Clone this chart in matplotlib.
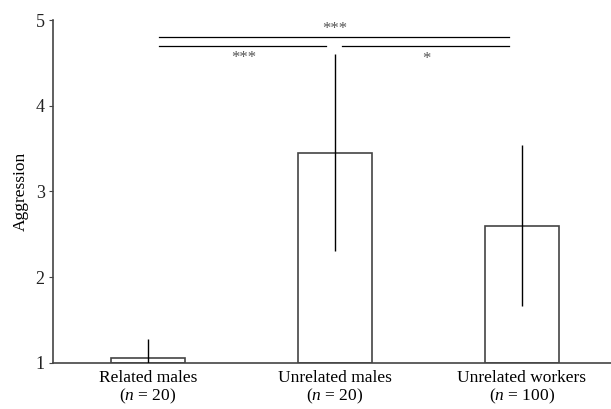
import numpy as np
import matplotlib.pyplot as plt

categories = ["Related males\n($n$ = 20)", "Unrelated males\n($n$ = 20)", "Unrelated workers\n($n$ = 100)"]
means = [1.05, 3.45, 2.60]
errors = [0.23, 1.15, 0.94]

# significance brackets: (x start, x end, y line, label, label x, label y)
brackets = [
    (0.06, 1.93, 4.80, "***", 1.0, 4.90),
    (0.06, 0.95, 4.70, "***", 0.51, 4.56),
    (1.04, 1.93, 4.70, "*", 1.49, 4.55),
]

plt.rcParams['font.family'] = ['Liberation Serif', 'DejaVu Serif']
plt.rcParams['mathtext.fontset'] = 'custom'
plt.rcParams['mathtext.it'] = 'Liberation Serif:italic'
plt.rcParams['mathtext.rm'] = 'Liberation Serif'

fig = plt.figure(figsize=(6.11, 4.09), dpi=100)
ax = fig.add_axes([0.0867, 0.113, 0.9133, 0.838])

x = np.arange(len(categories))
ax.bar(x, np.array(means) - 1, bottom=1, width=0.4, color='white',
       edgecolor='#444444', linewidth=1.2, zorder=2)
ax.errorbar(x, means, yerr=errors, fmt='none', ecolor='black',
            elinewidth=1.0, capsize=0, zorder=3)

for x0, x1, yl, lab, tx, ty in brackets:
    ax.plot([x0, x1], [yl, yl], color='black', linewidth=0.9, clip_on=False)
    ax.text(tx, ty, lab, ha='center', va='center', fontsize=12, color='#555555')

ax.set_xlim(-0.508, 2.476)
ax.set_ylim(1, 5)
ax.set_yticks([1, 2, 3, 4, 5])
ax.set_xticks(x)
ax.set_xticklabels(categories, fontsize=12.5, linespacing=1.05)
ax.tick_params(axis='x', length=0, pad=5)
ax.tick_params(axis='y', length=3, width=0.8, labelsize=13, pad=3,
               colors='#444444', labelcolor='#222222')
ax.set_ylabel("Aggression", fontsize=12.5, labelpad=5)

for side in ['top', 'right']:
    ax.spines[side].set_visible(False)
for side in ['left', 'bottom']:
    ax.spines[side].set_color('#444444')
    ax.spines[side].set_linewidth(1.2)

plt.savefig("out.png", dpi=100)
